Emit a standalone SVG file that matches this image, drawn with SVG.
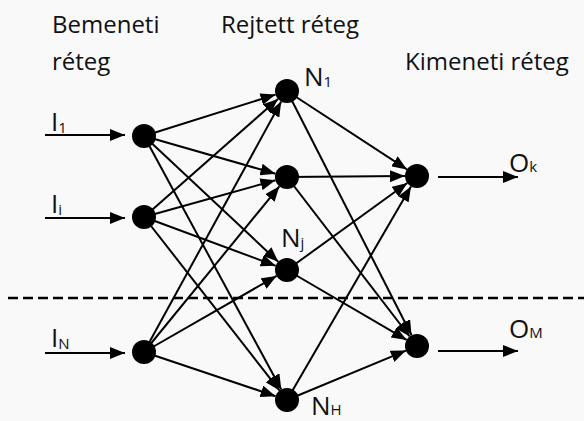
<svg xmlns="http://www.w3.org/2000/svg" width="584" height="421" viewBox="0 0 584 421">
<style>
.t{font-family:"Open Sans","Noto Sans",sans-serif;font-size:24px;fill:#111}
.lb{font-family:"Open Sans","Noto Sans",sans-serif;font-size:26px;fill:#111}
.sub{font-size:15px}
.c line{stroke:#000;stroke-width:2;marker-end:url(#ah)}
.n{fill:#000}
</style>
<defs>
<marker id="ah" markerUnits="userSpaceOnUse" markerWidth="15" markerHeight="12" viewBox="0 0 15 12" refX="15" refY="6" orient="auto">
<path d="M0,0 L15,6 L0,12 z" fill="#000"/>
</marker>
</defs>
<rect width="584" height="421" fill="#f9f9f9"/>
<text class="t" x="52" y="33">Bemeneti</text>
<text class="t" x="52" y="70">réteg</text>
<text class="t" x="221" y="33">Rejtett réteg</text>
<text class="t" x="405" y="70">Kimeneti réteg</text>
<line x1="8" y1="298" x2="584" y2="298" stroke="#000" stroke-width="2.5" stroke-dasharray="10 5"/>
<g class="c" id="connectors">
<line x1="45" y1="135" x2="125" y2="135"/>
<line x1="45" y1="218" x2="125" y2="218"/>
<line x1="45" y1="353" x2="125" y2="353"/>
<line x1="144" y1="136" x2="275.55" y2="94.6"/>
<line x1="144" y1="136" x2="275.47" y2="173.69"/>
<line x1="144" y1="136" x2="278.24" y2="261.8"/>
<line x1="144" y1="136" x2="281.28" y2="389.45"/>
<line x1="144" y1="217" x2="278" y2="98.93"/>
<line x1="144" y1="217" x2="275.44" y2="180.23"/>
<line x1="144" y1="217" x2="275.75" y2="265.83"/>
<line x1="144" y1="217" x2="279.61" y2="390.54"/>
<line x1="144" y1="352" x2="281.23" y2="101.52"/>
<line x1="144" y1="352" x2="279.41" y2="186.29"/>
<line x1="144" y1="352" x2="276.59" y2="275.97"/>
<line x1="144" y1="352" x2="275.62" y2="396.18"/>
<line x1="287" y1="91" x2="406.96" y2="169.43"/>
<line x1="287" y1="91" x2="411.55" y2="335.31"/>
<line x1="287" y1="177" x2="405" y2="176.09"/>
<line x1="287" y1="177" x2="409.68" y2="336.49"/>
<line x1="287" y1="270" x2="407.27" y2="183.03"/>
<line x1="287" y1="270" x2="406.64" y2="339.94"/>
<line x1="287" y1="400" x2="410.98" y2="186.38"/>
<line x1="287" y1="400" x2="405.92" y2="350.6"/>
<line x1="438" y1="177" x2="518" y2="177"/>
<line x1="438" y1="351" x2="518" y2="351"/>
</g>
<g id="in1"><circle class="n" cx="144" cy="136" r="12"/><text class="lb" x="51" y="131">I<tspan class="sub" dy="2">1</tspan></text></g>
<g id="ini"><circle class="n" cx="144" cy="217" r="12"/><text class="lb" x="51" y="213">I<tspan class="sub" dy="2">i</tspan></text></g>
<g id="inN"><circle class="n" cx="144" cy="352" r="12"/><text class="lb" x="51" y="347">I<tspan class="sub" dy="2">N</tspan></text></g>
<g id="h1"><circle class="n" cx="287" cy="91" r="12"/><text class="lb" x="304" y="86">N<tspan class="sub" dy="1">1</tspan></text></g>
<g id="h2"><circle class="n" cx="287" cy="177" r="12"/></g>
<g id="hj"><circle class="n" cx="287" cy="270" r="12"/><text class="lb" x="281" y="247">N<tspan class="sub" dy="1">j</tspan></text></g>
<g id="hH"><circle class="n" cx="287" cy="400" r="12"/><text class="lb" x="311" y="415">N<tspan class="sub" dy="0">H</tspan></text></g>
<g id="ok"><circle class="n" cx="417" cy="176" r="12"/><text class="lb" x="509" y="172">O<tspan class="sub" dy="0">k</tspan></text></g>
<g id="oM"><circle class="n" cx="417" cy="346" r="12"/><text class="lb" x="509" y="338">O<tspan class="sub" dy="0">M</tspan></text></g>
</svg>
